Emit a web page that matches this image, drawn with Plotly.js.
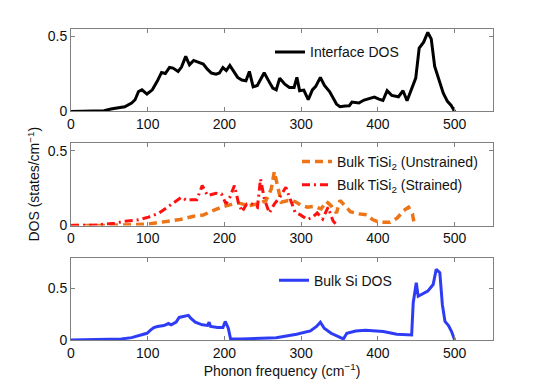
<!DOCTYPE html>
<html>
<head>
<meta charset="utf-8">
<script src="https://cdn.plot.ly/plotly-3.0.1.min.js"></script>
<style>
  html, body { margin: 0; padding: 0; background: #fff; }
  #chart { width: 545px; height: 382px; }
</style>
</head>
<body>
<div id="chart"></div>
<script>
// Phonon DOS : interface, bulk TiSi2 (avec / sans contrainte), bulk Si

const freqInterface = [0, 43, 52, 70, 79, 83.5, 88, 92.5, 99, 106, 112.7, 118, 123, 128.4, 133, 139.6, 144, 149.5, 154.4, 159.8, 166.5, 172.4, 177.7, 183, 189, 193.4, 198, 202.4, 207, 212.7, 217.2, 222.6, 228, 232.5, 237.4, 242.8, 251.8, 257.6, 263, 267.5, 272, 278.7, 284.6, 290.8, 294.4, 298, 303.4, 309.2, 314.6, 319, 325, 330.3, 337, 346, 350.5, 357.3, 362.7, 366.2, 375.2, 382, 388.7, 395.4, 401.3, 406.6, 412, 418, 426.8, 432.7, 438, 444.8, 449.3, 453.8, 459.6, 465, 469.5, 474, 478.5, 485.2, 490.6, 495.5, 500];
const dosInterface = [0, 0.004, 0.016, 0.031, 0.056, 0.078, 0.133, 0.144, 0.116, 0.144, 0.204, 0.26, 0.253, 0.293, 0.289, 0.267, 0.296, 0.367, 0.311, 0.34, 0.327, 0.316, 0.282, 0.256, 0.249, 0.256, 0.293, 0.273, 0.307, 0.267, 0.227, 0.209, 0.204, 0.267, 0.164, 0.173, 0.258, 0.204, 0.156, 0.144, 0.222, 0.182, 0.16, 0.16, 0.227, 0.138, 0.142, 0.078, 0.144, 0.167, 0.227, 0.173, 0.133, 0.049, 0.031, 0.036, 0.038, 0.062, 0.056, 0.076, 0.084, 0.096, 0.082, 0.073, 0.138, 0.107, 0.098, 0.138, 0.071, 0.167, 0.222, 0.422, 0.462, 0.527, 0.484, 0.3, 0.233, 0.122, 0.067, 0.04, 0];

const freqUnstrained = [0, 43, 99, 119, 142, 160, 173, 182, 196, 207, 218, 232, 243, 254, 261, 265, 270, 274, 283, 292, 299, 308, 317, 326, 333, 339, 346, 350.5, 357, 364, 375, 386, 393, 402, 416, 425, 433.6, 440, 445, 447];
const dosUnstrained = [0, 0, 0.009, 0.022, 0.04, 0.062, 0.071, 0.093, 0.122, 0.138, 0.151, 0.133, 0.144, 0.167, 0.244, 0.36, 0.244, 0.156, 0.167, 0.16, 0.138, 0.122, 0.129, 0.111, 0.16, 0.133, 0.084, 0.167, 0.133, 0.093, 0.078, 0.071, 0.04, 0.022, 0.022, 0.049, 0.1, 0.122, 0.078, 0.022];

const freqStrained = [0, 34, 57, 70, 88, 101, 115, 124, 137, 144, 151, 157.5, 164, 171, 178, 189, 196, 202, 207, 213, 218, 223, 229, 236, 243, 247, 252, 258.5, 265, 272, 280, 285, 292, 299, 308, 315, 321, 328, 335, 341.6, 347];
const dosStrained = [0, 0.004, 0.016, 0.029, 0.038, 0.056, 0.084, 0.116, 0.167, 0.189, 0.167, 0.173, 0.173, 0.267, 0.2, 0.216, 0.211, 0.144, 0.189, 0.267, 0.156, 0.093, 0.144, 0.144, 0.122, 0.311, 0.178, 0.084, 0.144, 0.189, 0.256, 0.182, 0.089, 0.071, 0.04, 0.056, 0.084, 0.044, 0.122, 0.03, 0];

const freqSi = [0, 43, 65.5, 79, 92.5, 99, 104, 108, 112.7, 117, 121, 124, 127, 130.6, 137, 141, 146, 153, 156, 162, 171, 178, 180, 182, 191, 198, 201, 205, 208, 222, 267.5, 294, 312, 320, 325, 330, 339, 350.5, 355, 359.5, 371, 384, 398, 407, 424.6, 444, 446, 450, 452.5, 456, 465, 472, 476, 480.7, 484, 487.4, 492, 496, 500];
const dosSi = [0, 0.003, 0.01, 0.023, 0.049, 0.065, 0.098, 0.121, 0.131, 0.135, 0.14, 0.15, 0.16, 0.148, 0.173, 0.219, 0.229, 0.239, 0.212, 0.173, 0.147, 0.141, 0.173, 0.131, 0.121, 0.121, 0.18, 0.114, 0.01, 0.01, 0.023, 0.056, 0.088, 0.131, 0.173, 0.114, 0.065, 0.023, 0.01, 0.065, 0.088, 0.095, 0.088, 0.082, 0.056, 0.049, 0.36, 0.556, 0.425, 0.44, 0.474, 0.539, 0.686, 0.654, 0.343, 0.18, 0.141, 0.082, 0];

const xTicks = [0, 100, 200, 300, 400, 500];
const yTicks = [0, 0.5];
const labels = ["Interface DOS", "Bulk TiSi<sub>2</sub> (Unstrained)", "Bulk TiSi<sub>2</sub> (Strained)", "Bulk Si DOS"];

const font = "Liberation Sans, Arial, Helvetica, sans-serif";
const frame = "#808080";

// axe commun façon MATLAB : cadre gris, ticks vers l'intérieur
const xAxis = (anchor) => ({
  anchor, range: [0, 550], tickvals: xTicks, ticks: "inside", ticklen: 4,
  tickcolor: frame, showline: true, linecolor: frame, linewidth: 1, mirror: "ticks",
  showgrid: false, zeroline: false, tickfont: { size: 14, color: "#111" }
});
const yAxis = (anchor, domain, range) => ({
  anchor, domain, range, tickvals: yTicks, ticks: "inside", ticklen: 4,
  tickcolor: frame, showline: true, linecolor: frame, linewidth: 1, mirror: "ticks",
  showgrid: false, zeroline: false, tickfont: { size: 14, color: "#111" }
});

const legendBox = (x, y) => ({
  x, y, xanchor: "left", yanchor: "middle", xref: "paper", yref: "paper",
  bgcolor: "rgba(0,0,0,0)", borderwidth: 0, font: { size: 14, color: "#111", family: font }
});

const data = [
  { x: freqInterface, y: dosInterface, xaxis: "x", yaxis: "y", mode: "lines", name: labels[0],
    line: { color: "#000", width: 3 }, legend: "legend" },
  { x: freqUnstrained, y: dosUnstrained, xaxis: "x2", yaxis: "y2", mode: "lines", name: labels[1],
    line: { color: "#ee7418", width: 3.5, dash: "8px,5px" }, legend: "legend2" },
  { x: freqStrained, y: dosStrained, xaxis: "x2", yaxis: "y2", mode: "lines", name: labels[2],
    line: { color: "#ff1010", width: 3, dash: "8px,4px,2px,4px" }, legend: "legend3" },
  { x: freqSi, y: dosSi, xaxis: "x3", yaxis: "y3", mode: "lines", name: labels[3],
    line: { color: "#2e3df5", width: 3 }, legend: "legend4" }
];

const layout = {
  width: 545, height: 382,
  margin: { l: 71, r: 52, t: 29, b: 42 },
  paper_bgcolor: "#fff", plot_bgcolor: "#fff",
  font: { family: font, size: 14, color: "#111" },
  showlegend: true,
  xaxis: xAxis("y"),
  xaxis2: xAxis("y2"),
  xaxis3: { ...xAxis("y3"), title: { text: "Phonon frequency (cm<sup>−1</sup>)", font: { size: 14 }, standoff: 6 } },
  yaxis: yAxis("x", [0.735, 1], [0, 0.55]),
  yaxis2: yAxis("x2", [0.368, 0.633], [0, 0.55]),
  yaxis3: yAxis("x3", [0, 0.265], [0, 0.8]),
  // titre Y posé à la main (le standoff est ignoré sans automargin)
  annotations: [{
    text: "DOS (states/cm<sup>−1</sup>)", textangle: -90, showarrow: false,
    xref: "paper", yref: "paper", x: -0.09, y: 0.5, xanchor: "center", yanchor: "middle",
    font: { size: 14, color: "#111" }
  }],
  legend: legendBox(0.4716, 0.925),
  legend2: legendBox(0.5355, 0.573),
  legend3: legendBox(0.5355, 0.498),
  legend4: legendBox(0.481, 0.191)
};

Plotly.newPlot("chart", data, layout, { displayModeBar: false, staticPlot: true });
</script>
</body>
</html>
